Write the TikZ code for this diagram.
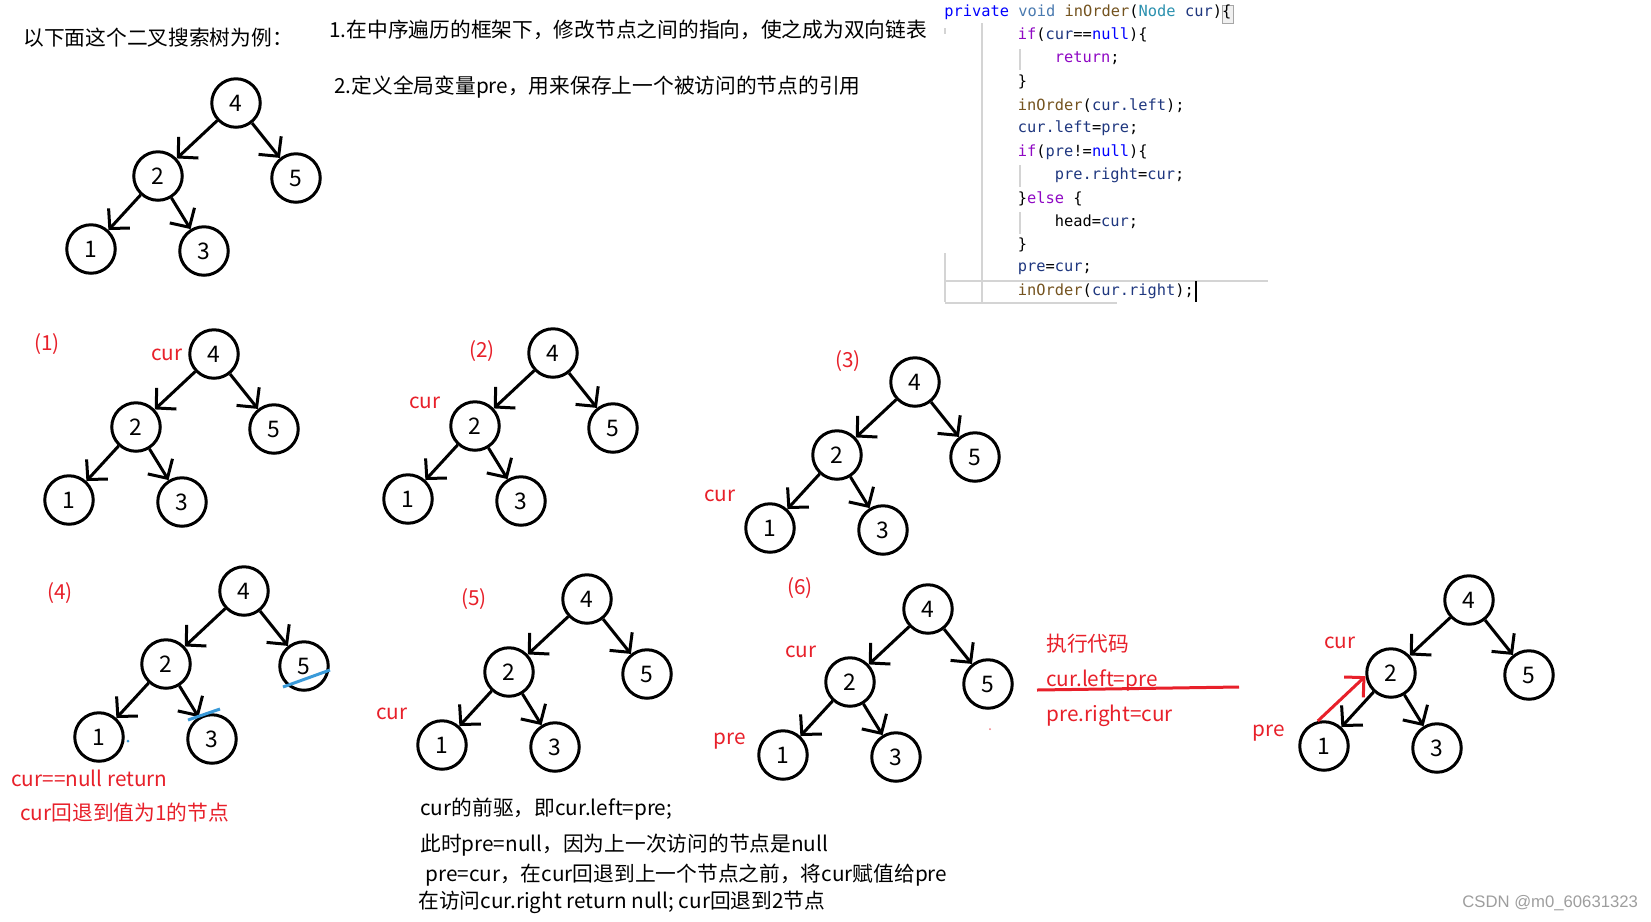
\documentclass[tikz,border=0pt]{standalone}
\usepackage{fontspec}
\setmainfont{Noto Sans CJK SC}
\newfontfamily\codefont{DejaVu Sans Mono}
\newfontfamily\wmfont{Liberation Sans}
\usetikzlibrary{arrows.meta}
\definecolor{redc}{HTML}{E8202A}
\definecolor{bluec}{HTML}{3A9AD9}
\definecolor{kwblue}{HTML}{0000FF}
\definecolor{voidc}{HTML}{4A7AB0}
\definecolor{methc}{HTML}{74531F}
\definecolor{typec}{HTML}{2B91AF}
\definecolor{varc}{HTML}{1F377F}
\definecolor{ctrlc}{HTML}{8F08C4}
\tikzset{
  nd/.style={circle,draw,line width=0.06cm,minimum size=0.97cm,inner sep=0pt,font=\fontsize{13pt}{14pt}\selectfont},
  arr/.style={line width=0.06cm,-{Straight Barb[length=0.28cm,width=0.58cm]}},
  redarr/.style={draw=redc,line width=0.06cm,-{Straight Barb[length=0.28cm,width=0.56cm]}},
  lbl/.style={inner sep=0pt,anchor=west,font=\fontsize{11.8pt}{14pt}\selectfont},
  rl/.style={inner sep=0pt,text=redc,font=\fontsize{11.8pt}{14pt}\selectfont},
  rlw/.style={rl,anchor=west},
  code/.style={inner sep=0pt,anchor=west,font=\codefont\fontsize{8.75pt}{10pt}\selectfont},
  guide/.style={draw=black!17,line width=0.03cm},
}
\newcommand\drawtree[3]{%
\begin{scope}[shift={(#2,#3)}]
\node[nd] (#1-4) at (0,0) {4};
\node[nd] (#1-2) at (-78,73) {2};
\node[nd] (#1-5) at (60,75) {5};
\node[nd] (#1-1) at (-145,146) {1};
\node[nd] (#1-3) at (-32,148) {3};
\draw[arr] (#1-4) -- (#1-2);
\draw[arr] (#1-4) -- (#1-5);
\draw[arr] (#1-2) -- (#1-1);
\draw[arr] (#1-2) -- (#1-3);
\end{scope}}
\newcommand\cv[1]{\textcolor{varc}{#1}}
\newcommand\ck[1]{\textcolor{ctrlc}{#1}}
\begin{document}
\begin{tikzpicture}[x=0.02cm,y=-0.02cm]
\useasboundingbox (0,0) rectangle (1651,921);
\fill[white] (0,0) rectangle (1651,921);

% headings
\node[lbl] (h0) at (23,38) {以下面这个二叉搜索树为例：};
\node[lbl] (h1) at (329,30) {1.在中序遍历的框架下，修改节点之间的指向，使之成为双向链表};
\node[lbl] (h2) at (334,87) {2.定义全局变量pre，用来保存上一个被访问的节点的引用};

% code guides
\draw[guide] (982,23) -- (982,302);
\draw[guide] (945,28) -- (945,34);
\draw[guide] (945,253) -- (945,302);
\draw[guide] (1020,49) -- (1020,70);
\draw[guide] (1020,165) -- (1020,187);
\draw[guide] (1020,212) -- (1020,234);
\draw[guide] (945,281) -- (1268,281);
\draw[guide] (945,303) -- (1117,303);
\draw[draw=black!35,fill=black!6,line width=0.02cm] (1222,5) rectangle (1233,23);

% code
\node[code] (c0) at (944,12) {\textcolor{kwblue}{private} \textcolor{voidc}{void} \textcolor{methc}{inOrder}(\textcolor{typec}{Node} \cv{cur})\{};
\node[code] (c1) at (1017.6,35.3) {\ck{if}(\cv{cur}==\textcolor{kwblue}{null})\{};
\node[code] (c2) at (1054.4,58.6) {\ck{return};};
\node[code] (c3) at (1017.6,81.9) {\}};
\node[code] (c4) at (1017.6,105.2) {\textcolor{methc}{inOrder}(\cv{cur.left});};
\node[code] (c5) at (1017.6,128.5) {\cv{cur.left}=\cv{pre};};
\node[code] (c6) at (1017.6,151.8) {\ck{if}(\cv{pre}!=\textcolor{kwblue}{null})\{};
\node[code] (c7) at (1054.4,175.1) {\cv{pre.right}=\cv{cur};};
\node[code] (c8) at (1017.6,198.4) {\}\ck{else} \{};
\node[code] (c9) at (1054.4,221.7) {head=\cv{cur};};
\node[code] (c10) at (1017.6,245.0) {\}};
\node[code] (c11) at (1017.6,268.3) {\cv{pre}=\cv{cur};};
\node[code] (c12) at (1017.6,291.6) {\textcolor{methc}{inOrder}(\cv{cur.right});};
\draw[line width=0.04cm] (1196,281) -- (1196,302);

% trees
\drawtree{t0}{236}{103}
\drawtree{t1}{214}{354}
\drawtree{t2}{553}{353}
\drawtree{t3}{915}{382}
\drawtree{t4}{244}{591}
\drawtree{t5}{587}{599}
\drawtree{t6}{928}{609}
\drawtree{t7}{1469}{600}

% step labels
\node[rl] (s1) at (47,344) {(1)};
\node[rl] (s1c) at (167,355) {cur};
\node[rl] (s2) at (482,351) {(2)};
\node[rl] (s2c) at (425,403) {cur};
\node[rl] (s3) at (848,361) {(3)};
\node[rl] (s3c) at (720,496) {cur};
\node[rl] (s4) at (60,593) {(4)};
\node[rlw] (s4a) at (11,778) {cur==null return};
\node[rlw] (s4b) at (20,813) {cur回退到值为1的节点};
\node[rl] (s5) at (474,599) {(5)};
\node[rl] (s5c) at (392,714) {cur};
\node[rl] (s6) at (800,588) {(6)};
\node[rl] (s6c) at (801,652) {cur};
\node[rl] (s6p) at (730,741) {pre};
\node[rl] (s7c) at (1340,643) {cur};
\node[rl] (s7p) at (1269,733) {pre};

% blue marks in (4)
\draw[bluec,line width=0.06cm] (188,720) -- (220,709);
\draw[bluec,line width=0.06cm] (283,687) -- (330,670);
\fill[bluec] (128,741) circle (1.5);
\fill[redc!60] (990,729) circle (1);

% explanation text
\node[lbl] (e1) at (420,809) {cur的前驱，即cur.left=pre;};
\node[lbl] (e2) at (420,845) {此时pre=null，因为上一次访问的节点是null};
\node[lbl] (e3) at (425,875) {pre=cur，在cur回退到上一个节点之前，将cur赋值给pre};
\node[lbl] (e4) at (418,902) {在访问cur.right return null; cur回退到2节点};

% executed code
\node[rlw] (x1) at (1046,644) {执行代码};
\node[rlw] (x2) at (1046,680) {cur.left=pre};
\node[rlw] (x3) at (1046,716) {pre.right=cur};
\draw[redc,line width=0.06cm] (1037,690) -- (1239,687);

% red pointer in last tree
\draw[redarr] (t7-1.104) -- (t7-2.187);

% watermark
\node[inner sep=0pt,anchor=west,text=black!38,font=\wmfont\fontsize{9.5pt}{11pt}\selectfont] (wm) at (1462,903) {CSDN @m0\_60631323};
\end{tikzpicture}
\end{document}
